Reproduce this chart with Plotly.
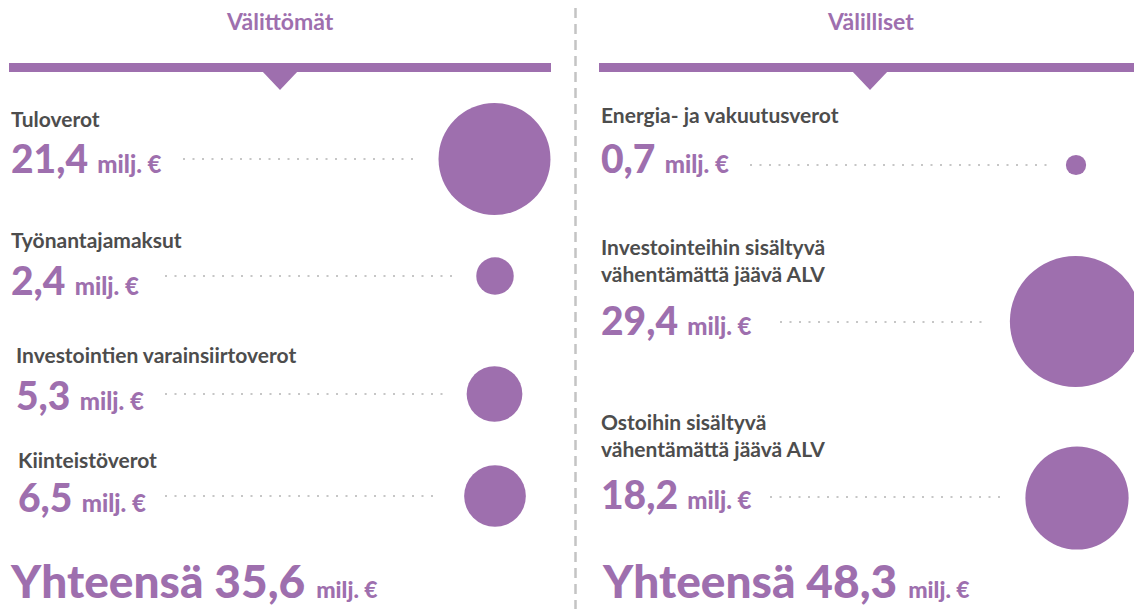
import math
import plotly.graph_objects as go

# ---------------- data ----------------
left_title = "Välittömät"
right_title = "Välilliset"

left_labels = ["Tuloverot", "Työnantajamaksut", "Investointien varainsiirtoverot", "Kiinteistöverot"]
left_values = [21.4, 2.4, 5.3, 6.5]
left_total = 35.6

right_labels = ["Energia- ja vakuutusverot",
                "Investointeihin sisältyvä<br>vähentämättä jäävä ALV",
                "Ostoihin sisältyvä<br>vähentämättä jäävä ALV"]
right_values = [0.7, 29.4, 18.2]
right_total = 48.3

unit = "milj. €"
total_word = "Yhteensä"

# ---------------- layout positions (pixels) ----------------
W, H = 1134, 609
PURPLE = "#9e6fae"
GREY_TXT = "#4d4d4d"
DOT_GREY = "#c6c6c6"
FONT = "Lato"

# left column
left_label_x = [9, 9, 14, 16]
left_label_y = [118, 239, 354, 459]
left_value_y = [158, 280, 395, 497]
left_circle_x = [494.5, 495, 494.5, 495]
left_circle_y = [159, 276, 394, 496]
left_dots = [(183, 413), (165, 455), (165, 447), (165, 440)]
left_dots_y = [159, 276, 394, 496]

# right column
right_label_x = [599, 599, 599]
right_label_y = [114, 260, 435]
right_value_y = [158, 320, 494]
right_circle_x = [1076, 1075.5, 1077]
right_circle_y = [165, 321.5, 498]
right_dots = [(750, 1047), (780, 985), (770, 1003)]
right_dots_y = [165, 322, 497]

SCALE = 24.2  # diameter px per sqrt(value)


def fmt(v):
    return f"{v:.1f}".replace(".", ",")


fig = go.Figure()

# circles (area proportional to value)
fig.add_trace(go.Scatter(
    x=left_circle_x + right_circle_x,
    y=left_circle_y + right_circle_y,
    mode="markers",
    marker=dict(size=[SCALE * math.sqrt(v) for v in left_values + right_values],
                sizemode="diameter", color=PURPLE, line=dict(width=0), opacity=1),
    hoverinfo="skip", showlegend=False, cliponaxis=False,
))

shapes = []
# header bars
shapes.append(dict(type="rect", x0=9, x1=551, y0=63, y1=72, fillcolor=PURPLE, line=dict(width=0), layer="below"))
shapes.append(dict(type="rect", x0=599, x1=1134, y0=63, y1=72, fillcolor=PURPLE, line=dict(width=0), layer="below"))
# triangles
for cx in (280, 870):
    shapes.append(dict(type="path", path=f"M {cx-18},71 L {cx+18},71 L {cx},90 Z",
                       fillcolor=PURPLE, line=dict(width=0), layer="below"))
# divider
shapes.append(dict(type="line", x0=575.5, x1=575.5, y0=8, y1=609,
                   line=dict(color="#c4c4c4", width=2.5, dash="10px,6px"), layer="below"))
# dotted leader lines
for (x0, x1), y in list(zip(left_dots, left_dots_y)) + list(zip(right_dots, right_dots_y)):
    shapes.append(dict(type="line", x0=x0, x1=x1, y0=y, y1=y,
                       line=dict(color=DOT_GREY, width=2.2, dash="2px,7.5px"), layer="below"))

ann = []


def add_text(x, y, text, size, color, weight=700, xanchor="left"):
    ann.append(dict(x=x, y=y, xref="x", yref="y", text=text, showarrow=False,
                    xanchor=xanchor, yanchor="middle", align="left",
                    font=dict(family=FONT, size=size, color=color, weight=weight)))


# titles
add_text(280, 21, left_title, 23, PURPLE, 700, "center")
add_text(870, 21, right_title, 23, PURPLE, 700, "center")

# rows
for lab, v, lx, ly, vy in zip(left_labels, left_values, left_label_x, left_label_y, left_value_y):
    add_text(lx, ly, lab, 21, GREY_TXT, 700)
    add_text(lx, vy, f"{fmt(v)} <span style='font-size:24px'>{unit}</span>", 39, PURPLE, 900)
for lab, v, lx, ly, vy in zip(right_labels, right_values, right_label_x, right_label_y, right_value_y):
    add_text(lx, ly, lab, 21, GREY_TXT, 700)
    add_text(lx, vy, f"{fmt(v)} <span style='font-size:24px'>{unit}</span>", 39, PURPLE, 900)

# totals
add_text(8, 580, f"{total_word} {fmt(left_total)} <span style='font-size:23px'>{unit}</span>", 46, PURPLE, 900)
add_text(600, 580, f"{total_word} {fmt(right_total)} <span style='font-size:23px'>{unit}</span>", 46, PURPLE, 900)

fig.update_layout(
    width=W, height=H, margin=dict(l=0, r=0, t=0, b=0, pad=0),
    paper_bgcolor="white", plot_bgcolor="white",
    xaxis=dict(range=[0, W], visible=False, fixedrange=True),
    yaxis=dict(range=[H, 0], visible=False, fixedrange=True),
    shapes=shapes, annotations=ann, showlegend=False,
)

fig.write_html("out.html", config={"displayModeBar": False, "staticPlot": True},
               post_script="document.body.style.margin='0';")
